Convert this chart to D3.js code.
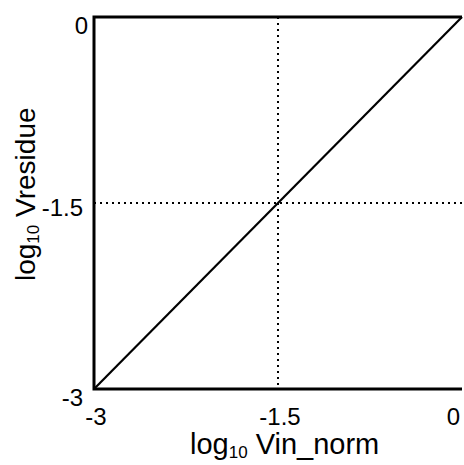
<!DOCTYPE html>
<html>
<head>
<meta charset="utf-8">
<script src="https://cdn.jsdelivr.net/npm/d3@7"></script>
<style>
  body { margin: 0; background: #fff; }
  text { font-family: Arial, "Liberation Sans", sans-serif; fill: #000; }
</style>
</head>
<body>
<div id="chart"></div>
<script>
// log10 values
let lineX = [-3, 0];
let lineY = [-3, 0];
let guideX = [-1.5];
let guideY = [-1.5];
let tickValues = [-3, -1.5, 0];
let tickLabels = ["-3", "-1.5", "0"];

let width = 464, height = 465;
let margin = {left: 94, right: 2, top: 17, bottom: 76};

let svg = d3.select("#chart").append("svg")
    .attr("width", width)
    .attr("height", height);

let x = d3.scaleLinear().domain([-3, 0]).range([margin.left, width - margin.right]);
let y = d3.scaleLinear().domain([-3, 0]).range([height - margin.bottom, margin.top]);

let g = svg.append("g");

// dotted guides
guideX.forEach(function(v){
    g.append("line")
        .attr("x1", x(v)).attr("x2", x(v))
        .attr("y1", y(0)).attr("y2", y(-3))
        .attr("stroke", "#000").attr("stroke-width", 2)
        .attr("stroke-dasharray", "2,4");
});
guideY.forEach(function(v){
    g.append("line")
        .attr("x1", x(-3)).attr("x2", x(0))
        .attr("y1", y(v)).attr("y2", y(v))
        .attr("stroke", "#000").attr("stroke-width", 2)
        .attr("stroke-dasharray", "2,4");
});

// the diagonal
let line = d3.line()
    .x(function(d, i){ return x(d); })
    .y(function(d, i){ return y(lineY[i]); });
g.append("path")
    .attr("d", line(lineX))
    .attr("fill", "none")
    .attr("stroke", "#000")
    .attr("stroke-width", 2.2);

// frame: left, top, bottom
g.append("path")
    .attr("d", "M" + x(0) + "," + y(0) + "H" + x(-3) + "V" + y(-3) + "H" + x(0))
    .attr("fill", "none")
    .attr("stroke", "#000")
    .attr("stroke-width", 3);

// x tick labels
tickValues.forEach(function(v, i){
    g.append("text")
        .text(tickLabels[i])
        .attr("x", i == tickValues.length - 1 ? x(v) - 2 : x(v) + 2)
        .attr("y", y(-3) + 36)
        .attr("text-anchor", i == tickValues.length - 1 ? "end" : "middle")
        .attr("font-size", 24);
});

// y tick labels
let yShift = [17, 13, 17];
tickValues.forEach(function(v, i){
    g.append("text")
        .text(tickLabels[i])
        .attr("x", x(-3) - (i == 2 ? 6 : 11))
        .attr("y", y(v) + yShift[i])
        .attr("text-anchor", "end")
        .attr("font-size", 24);
});

// axis titles
let xt = svg.append("text")
    .attr("x", 190)
    .attr("y", 454)
    .attr("font-size", 29);
xt.append("tspan").text("log");
xt.append("tspan").text("10").attr("font-size", 17).attr("dy", 4);
xt.append("tspan").text(" Vin_norm").attr("dy", -4);

let yt = svg.append("text")
    .attr("transform", "translate(35,281) rotate(-90)")
    .attr("font-size", 28);
yt.append("tspan").text("log");
yt.append("tspan").text("10").attr("font-size", 17).attr("dy", 4);
yt.append("tspan").text(" Vresidue").attr("dy", -4);
</script>
</body>
</html>
